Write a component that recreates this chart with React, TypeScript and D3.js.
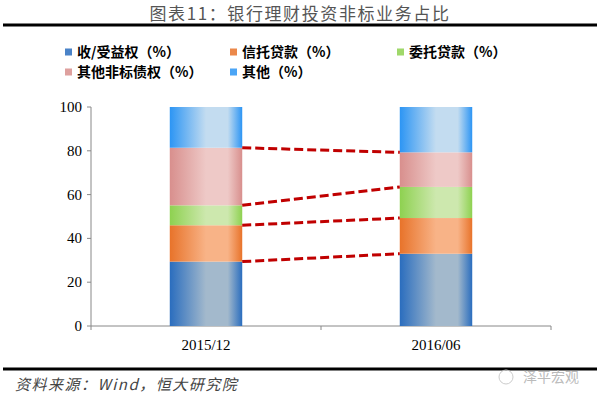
import React from "react";
import * as d3 from "d3";

const categories = ["2015/12", "2016/06"];
const seriesNames = ["收/受益权（%）", "信托贷款（%）", "委托贷款（%）", "其他非标债权（%）", "其他（%）"];
const seriesA = [29.4, 33.0]; // 收/受益权
const seriesB = [16.6, 16.3]; // 信托贷款
const seriesC = [9.1, 14.2]; // 委托贷款
const seriesD = [26.3, 15.8]; // 其他非标债权
const seriesE = [18.6, 20.7]; // 其他
const yTicks = [0, 20, 40, 60, 80, 100];

const edgeColors = ["#2A6DBE", "#E8732A", "#8ED150", "#D88F8D", "#2C95F4"];
const midColors = ["#A3B9CC", "#F8B387", "#CDE8AE", "#EEC9C7", "#C3DCF0"];

const W = 600, H = 400;
const plot = { left: 91, right: 551, top: 107, bottom: 326 };

export default function App() {
  const series = [seriesA, seriesB, seriesC, seriesD, seriesE];
  const table = categories.map((c, i) => {
    const o: any = { cat: c };
    series.forEach((s, k) => (o["s" + k] = s[i]));
    return o;
  });
  const keys = series.map((_, k) => "s" + k);
  const stacked = d3.stack().keys(keys)(table);

  const x = d3.scaleBand().domain(categories).range([plot.left, plot.right]).paddingInner(0.685).paddingOuter(0.3425);
  const y = d3.scaleLinear().domain([0, 100]).range([plot.bottom, plot.top]);
  const bw = x.bandwidth();

  const legendPos = [
    [65, 52], [230, 52], [397, 52], [65, 72], [230, 72],
  ];

  const cjk = "'Noto Sans CJK SC', sans-serif";
  const serif = "'Liberation Serif', 'Times New Roman', serif";

  const bandEdges = [plot.left, plot.left + (plot.right - plot.left) / 2, plot.right];

  return (
    <svg width={W} height={H} style={{ position: "absolute", left: 0, top: 0, background: "#fff" }}>
      <defs>
        {edgeColors.map((c, k) => (
          <linearGradient key={k} id={"g" + k} x1="0" x2="1" y1="0" y2="0">
            <stop offset="0" stopColor={c} />
            <stop offset="0.5" stopColor={midColors[k]} />
            <stop offset="0.8" stopColor={midColors[k]} stopOpacity={1} />
            <stop offset="1" stopColor={c} />
          </linearGradient>
        ))}
      </defs>
      <rect width={W} height={H} fill="#fff" />
      <text x={300} y={20} textAnchor="middle" fontFamily={cjk} fontSize={17} letterSpacing={1.6} fill="#555">图表11：银行理财投资非标业务占比</text>
      <line x1={3} x2={597} y1={25} y2={25} stroke="#000" strokeWidth={3} />

      {seriesNames.map((n, k) => (
        <g key={k}>
          <rect x={legendPos[k][0]} y={legendPos[k][1] - 3.5} width={7} height={7} fill={edgeColors[k]} opacity={0.85} />
          <text x={legendPos[k][0] + 12} y={legendPos[k][1] + 5} fontFamily={cjk} fontWeight="bold" fontSize={14} fill="#000">{n}</text>
        </g>
      ))}

      {/* axes */}
      <line x1={plot.left} x2={plot.left} y1={plot.top} y2={plot.bottom} stroke="#888" />
      <line x1={plot.left} x2={plot.right} y1={plot.bottom} y2={plot.bottom} stroke="#888" />
      {yTicks.map((t) => (
        <g key={t}>
          <line x1={plot.left - 4} x2={plot.left} y1={y(t)} y2={y(t)} stroke="#888" />
          <text x={plot.left - 9} y={y(t) + 5} textAnchor="end" fontFamily={serif} fontSize={15} fill="#000">{t}</text>
        </g>
      ))}
      {bandEdges.map((bx, i) => (
        <line key={i} x1={bx} x2={bx} y1={plot.bottom} y2={plot.bottom + 4} stroke="#888" />
      ))}
      {categories.map((c) => (
        <text key={c} x={(x(c) as number) + bw / 2} y={plot.bottom + 24} textAnchor="middle" fontFamily={serif} fontSize={15} fill="#000">{c}</text>
      ))}

      {/* bars */}
      {stacked.map((layer, k) =>
        layer.map((d, i) => (
          <rect key={k + "-" + i} x={x(categories[i]) as number} width={bw} y={y(d[1])} height={y(d[0]) - y(d[1])} fill={`url(#g${k})`} />
        ))
      )}

      {/* connector dashed lines */}
      {stacked.slice(0, 4).map((layer, k) => (
        <line key={"c" + k}
          x1={(x(categories[0]) as number) + bw} y1={y(layer[0][1])}
          x2={x(categories[1]) as number} y2={y(layer[1][1])}
          stroke="#C00000" strokeWidth={3} strokeDasharray="9,4" />
      ))}

      <line x1={3} x2={597} y1={369} y2={369} stroke="#000" strokeWidth={3} />
      <text x={15} y={390} fontFamily={cjk} fontStyle="italic" fontSize={15} letterSpacing={1.5} fill="#444">资料来源：Wind，恒大研究院</text>
      <circle cx={506} cy={377} r={7} fill="none" stroke="#ccc" strokeWidth={1} />
      <text x={523} y={382} fontFamily={cjk} fontSize={14} fill="#bbb">泽平宏观</text>
    </svg>
  );
}
